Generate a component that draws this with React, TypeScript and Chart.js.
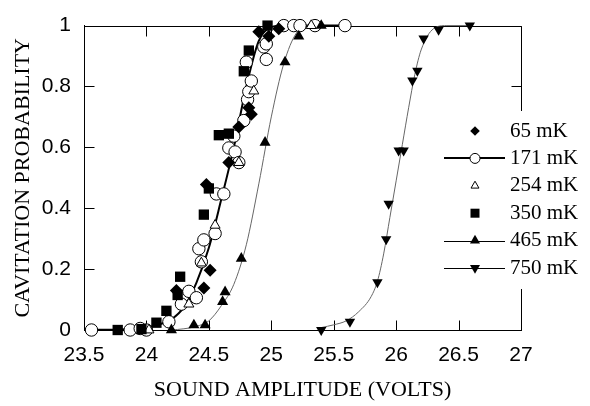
import React, { useEffect, useRef } from 'react';
import { Chart, registerables } from 'chart.js';

Chart.register(...registerables);

// ---- tick labels ----
const xTickLabels = ['23.5', '24', '24.5', '25', '25.5', '26', '26.5', '27'];
const yTickLabels = ['0', '0.2', '0.4', '0.6', '0.8', '1'];

const xTitle = 'SOUND AMPLITUDE (VOLTS)';
const yTitle = 'CAVITATION PROBABILITY';
const legendLabels = ['65 mK', '171 mK', '254 mK', '350 mK', '465 mK', '750 mK'];

// ---- measured points ----
const x65 = [24.24, 24.46, 24.51, 24.48, 24.66, 24.74, 24.82, 24.84, 24.9, 24.98, 25.06];
const y65 = [0.13, 0.138, 0.196, 0.478, 0.55, 0.667, 0.73, 0.709, 0.98, 0.965, 0.99];

const x171 = [23.56, 23.87, 23.95, 24.0, 24.18, 24.28, 24.34, 24.4, 24.42, 24.44, 24.46, 24.55, 24.56, 24.62, 24.66, 24.7, 24.71, 24.74, 24.78, 24.81, 24.82, 24.84, 24.8, 24.94, 24.96, 24.96, 25.1, 25.18, 25.23, 25.35, 25.59];
const y171 = [0, 0, 0.005, 0, 0.027, 0.085, 0.127, 0.106, 0.267, 0.224, 0.296, 0.317, 0.447, 0.447, 0.598, 0.637, 0.585, 0.55, 0.688, 0.757, 0.783, 0.818, 0.88, 0.93, 0.94, 0.889, 1, 1, 1, 1, 1];

const x254 = [24.02, 24.34, 24.44, 24.55, 24.74, 24.86, 25.32];
const y254 = [0.0, 0.085, 0.22, 0.344, 0.55, 0.785, 1.0];

const x350 = [23.77, 23.96, 24.08, 24.16, 24.25, 24.27, 24.46, 24.5, 24.58, 24.66, 24.78, 24.82, 24.97];
const y350 = [0, 0.003, 0.024, 0.063, 0.115, 0.175, 0.379, 0.465, 0.64, 0.645, 0.85, 0.918, 1.0];

const x465 = [24.2, 24.38, 24.47, 24.61, 24.63, 24.76, 24.95, 25.11, 25.22, 25.4];
const y465 = [0, 0.016, 0.016, 0.093, 0.125, 0.235, 0.616, 0.88, 0.965, 1.0];

const x750 = [25.4, 25.63, 25.85, 25.92, 25.94, 26.02, 26.06, 26.13, 26.17, 26.22, 26.34, 26.59];
const y750 = [0, 0.027, 0.157, 0.298, 0.415, 0.59, 0.59, 0.82, 0.852, 0.958, 0.986, 1.0];

// ---- fitted curves ----
const fit171X = [23.54, 23.8, 24.0, 24.1, 24.2, 24.3, 24.4, 24.5, 24.6, 24.7, 24.8, 24.9, 25.0, 25.1, 25.59];
const fit171Y = [0.0, 0.002, 0.008, 0.018, 0.035, 0.075, 0.155, 0.27, 0.43, 0.6, 0.8, 0.95, 0.995, 1.0, 1.0];

const fit465X = [24.2, 24.3, 24.4, 24.5, 24.6, 24.7, 24.8, 24.9, 25.0, 25.1, 25.2, 25.3, 25.4];
const fit465Y = [0.0, 0.004, 0.012, 0.03, 0.08, 0.15, 0.28, 0.48, 0.7, 0.875, 0.975, 1.0, 1.0];

const fit750X = [25.4, 25.5, 25.6, 25.7, 25.8, 25.85, 25.9, 25.95, 26.0, 26.05, 26.1, 26.15, 26.2, 26.3, 26.4, 26.59];
const fit750Y = [0.008, 0.017, 0.03, 0.06, 0.11, 0.16, 0.25, 0.37, 0.49, 0.61, 0.73, 0.84, 0.92, 0.99, 1.0, 1.0];

const toXY = (xs: number[], ys: number[]) => xs.map((x, i) => ({ x, y: ys[i] }));

const SANS = 'Liberation Sans, Arial, sans-serif';
const SERIF = 'Liberation Serif, Times New Roman, serif';

const frameTicksPlugin = {
  id: 'frameTicks',
  beforeDatasetsDraw(chart: any) {
    const { ctx, chartArea } = chart;
    const { left, right, top, bottom } = chartArea;
    const xs = chart.scales.x;
    const ys = chart.scales.y;
    const L = Math.round(left) + 0.5;
    const R = Math.round(right) + 0.5;
    const T = Math.round(top) + 0.5;
    const B = Math.round(bottom) + 0.5;
    const tl = 10;
    ctx.save();
    ctx.strokeStyle = '#000';
    ctx.lineWidth = 1;
    ctx.beginPath();
    ctx.moveTo(L, T);
    ctx.lineTo(R, T);
    ctx.lineTo(R, B);
    ctx.moveTo(L, T);
    ctx.lineTo(L, B);
    ctx.lineTo(R, B);
    xs.ticks.forEach((t: any) => {
      const p = Math.round(xs.getPixelForValue(t.value)) + 0.5;
      ctx.moveTo(p, B);
      ctx.lineTo(p, B - tl);
      ctx.moveTo(p, T);
      ctx.lineTo(p, T + tl);
    });
    ys.ticks.forEach((t: any) => {
      const p = Math.round(ys.getPixelForValue(t.value)) + 0.5;
      ctx.moveTo(L, p);
      ctx.lineTo(L + tl, p);
      ctx.moveTo(R, p);
      ctx.lineTo(R - tl, p);
    });
    ctx.stroke();
    ctx.restore();
  },
};

type Marker = 'diamond' | 'circle' | 'openTri' | 'square' | 'upTri' | 'downTri';
const legendMarkers: Marker[] = ['diamond', 'circle', 'openTri', 'square', 'upTri', 'downTri'];
const legendLines = [0, 2, 0, 0, 1, 1];

function drawMarker(ctx: CanvasRenderingContext2D, m: Marker, x: number, y: number) {
  ctx.beginPath();
  ctx.fillStyle = '#000';
  ctx.strokeStyle = '#000';
  ctx.lineWidth = 1;
  if (m === 'diamond') {
    const r = 4.8;
    ctx.moveTo(x, y - r); ctx.lineTo(x + r, y); ctx.lineTo(x, y + r); ctx.lineTo(x - r, y); ctx.closePath();
    ctx.fill();
  } else if (m === 'circle') {
    ctx.arc(x, y, 5, 0, Math.PI * 2);
    ctx.fillStyle = '#fff';
    ctx.fill();
    ctx.stroke();
  } else if (m === 'openTri') {
    const r = 4.6;
    ctx.moveTo(x, y - r); ctx.lineTo(x + r * 0.866, y + r / 2); ctx.lineTo(x - r * 0.866, y + r / 2); ctx.closePath();
    ctx.fillStyle = '#fff';
    ctx.fill();
    ctx.stroke();
  } else if (m === 'square') {
    ctx.rect(x - 4.5, y - 4.5, 9, 9);
    ctx.fill();
  } else if (m === 'upTri') {
    const r = 5.8;
    ctx.moveTo(x, y - r); ctx.lineTo(x + r * 0.866, y + r / 2); ctx.lineTo(x - r * 0.866, y + r / 2); ctx.closePath();
    ctx.fill();
  } else if (m === 'downTri') {
    const r = 5.8;
    ctx.moveTo(x, y + r); ctx.lineTo(x + r * 0.866, y - r / 2); ctx.lineTo(x - r * 0.866, y - r / 2); ctx.closePath();
    ctx.fill();
  }
}

const legendPlugin = {
  id: 'customLegend',
  afterDraw(chart: any) {
    const { ctx } = chart;
    ctx.save();
    ctx.fillStyle = '#fff';
    ctx.fillRect(436, 111, 154, 178);
    const y0 = 131;
    const step = 27.4;
    legendLabels.forEach((lab, i) => {
      const y = y0 + i * step;
      const lw = legendLines[i];
      if (lw) {
        ctx.beginPath();
        ctx.strokeStyle = '#000';
        ctx.lineWidth = lw;
        const yy = lw === 1 ? Math.round(y) + 0.5 : Math.round(y);
        ctx.moveTo(444, yy);
        ctx.lineTo(505, yy);
        ctx.stroke();
      }
      drawMarker(ctx, legendMarkers[i], 475, y);
      ctx.fillStyle = '#000';
      ctx.font = `21px ${SERIF}`;
      ctx.textAlign = 'left';
      ctx.textBaseline = 'middle';
      ctx.fillText(lab, 510, y);
    });
    ctx.restore();
  },
};

export default function App() {
  const ref = useRef<HTMLCanvasElement | null>(null);
  useEffect(() => {
    if (!ref.current) return;
    const pointCommon = { showLine: false, clip: false as any, pointHoverRadius: 0 };
    const lineCommon = {
      showLine: true,
      pointRadius: 0,
      pointHoverRadius: 0,
      cubicInterpolationMode: 'monotone' as const,
      fill: false,
      clip: false as any,
    };
    const chart = new Chart(ref.current, {
      type: 'scatter',
      data: {
        datasets: [
          { ...pointCommon, label: legendLabels[3], data: toXY(x350, y350), pointStyle: 'rect', pointRadius: 7.3, pointBackgroundColor: '#000', pointBorderColor: '#000', pointBorderWidth: 0 },
          { ...pointCommon, label: legendLabels[4], data: toXY(x465, y465), pointStyle: 'triangle', pointRadius: 6.4, pointBackgroundColor: '#000', pointBorderColor: '#000', pointBorderWidth: 0 },
          { ...pointCommon, label: legendLabels[5], data: toXY(x750, y750), pointStyle: 'triangle', pointRotation: 180, pointRadius: 6, pointBackgroundColor: '#000', pointBorderColor: '#000', pointBorderWidth: 0 },
          { ...pointCommon, label: legendLabels[2], data: toXY(x254, y254), pointStyle: 'triangle', pointRadius: 5.8, pointBackgroundColor: '#fff', pointBorderColor: '#000', pointBorderWidth: 1 },
          { ...pointCommon, label: legendLabels[0], data: toXY(x65, y65), pointStyle: 'rectRot', pointRadius: 6.5, pointBackgroundColor: '#000', pointBorderColor: '#000', pointBorderWidth: 0 },
          { ...pointCommon, label: legendLabels[1], data: toXY(x171, y171), pointStyle: 'circle', pointRadius: 6.2, pointBackgroundColor: '#fff', pointBorderColor: '#000', pointBorderWidth: 1 },
          { ...lineCommon, label: 'fit 171', data: toXY(fit171X, fit171Y), borderColor: '#000', borderWidth: 2 },
          { ...lineCommon, label: 'fit 465', data: toXY(fit465X, fit465Y), borderColor: '#666', borderWidth: 1 },
          { ...lineCommon, label: 'fit 750', data: toXY(fit750X, fit750Y), borderColor: '#666', borderWidth: 1 },
        ] as any,
      },
      options: {
        animation: false,
        responsive: false,
        devicePixelRatio: 1,
        events: [],
        layout: { padding: { top: 15, right: 69, left: 0, bottom: 0 } },
        plugins: { legend: { display: false }, tooltip: { enabled: false } },
        scales: {
          x: {
            type: 'linear',
            min: 23.5,
            max: 27,
            afterFit: (s: any) => { s.height = 76; },
            ticks: {
              stepSize: 0.5,
              autoSkip: false,
              maxRotation: 0,
              padding: 13,
              color: '#000',
              font: { family: SANS, size: 21 },
              callback: (_v: any, i: number) => xTickLabels[i],
            },
            grid: { display: false, drawTicks: false },
            border: { display: true, color: '#000', width: 1 },
            title: { display: true, text: xTitle, color: '#000', font: { family: SERIF, size: 22 }, padding: { top: 0, bottom: 3 } },
          },
          y: {
            type: 'linear',
            min: 0,
            max: 1,
            afterFit: (s: any) => { s.width = 84; },
            ticks: {
              stepSize: 0.2,
              autoSkip: false,
              padding: 13,
              color: '#000',
              font: { family: SANS, size: 21 },
              callback: (_v: any, i: number) => yTickLabels[i],
            },
            grid: { display: false, drawTicks: false },
            border: { display: true, color: '#000', width: 1 },
            title: { display: true, text: yTitle, color: '#000', font: { family: SERIF, size: 22 }, padding: { top: 10, bottom: 0 } },
          },
        },
      } as any,
      plugins: [frameTicksPlugin, legendPlugin],
    });
    return () => chart.destroy();
  }, []);
  return (
    <div style={{ position: 'fixed', left: 0, top: 0, width: 590, height: 406, background: '#fff' }}>
      <canvas ref={ref} width={590} height={406} style={{ display: 'block' }} />
    </div>
  );
}
